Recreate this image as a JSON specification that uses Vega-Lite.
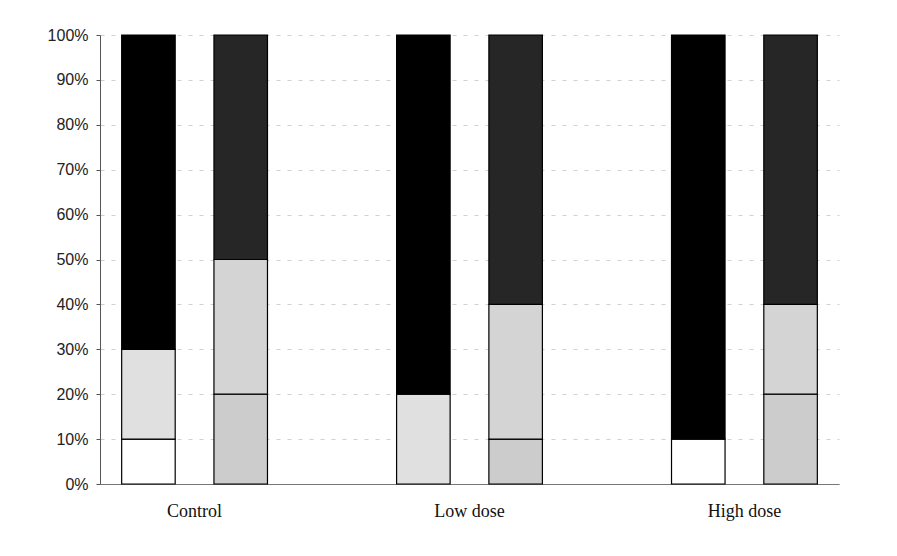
{
  "$schema": "https://vega.github.io/schema/vega-lite/v6.json",
  "width": 739,
  "height": 449,
  "autosize": {"type": "none"},
  "padding": {"left": 100, "top": 35, "right": 58, "bottom": 72},
  "background": "white",
  "config": {"view": {"stroke": null}},
  "data": {
    "values": [
      {"group": "Control", "bar": "A", "seg": "A1", "ord": 1, "value": 10},
      {"group": "Control", "bar": "A", "seg": "A2", "ord": 2, "value": 20},
      {"group": "Control", "bar": "A", "seg": "A3", "ord": 3, "value": 70},
      {"group": "Control", "bar": "B", "seg": "B1", "ord": 1, "value": 20},
      {"group": "Control", "bar": "B", "seg": "B2", "ord": 2, "value": 30},
      {"group": "Control", "bar": "B", "seg": "B3", "ord": 3, "value": 50},
      {"group": "Low dose", "bar": "A", "seg": "A2", "ord": 2, "value": 20},
      {"group": "Low dose", "bar": "A", "seg": "A3", "ord": 3, "value": 80},
      {"group": "Low dose", "bar": "B", "seg": "B1", "ord": 1, "value": 10},
      {"group": "Low dose", "bar": "B", "seg": "B2", "ord": 2, "value": 30},
      {"group": "Low dose", "bar": "B", "seg": "B3", "ord": 3, "value": 60},
      {"group": "High dose", "bar": "A", "seg": "A1", "ord": 1, "value": 10},
      {"group": "High dose", "bar": "A", "seg": "A3", "ord": 3, "value": 90},
      {"group": "High dose", "bar": "B", "seg": "B1", "ord": 1, "value": 20},
      {"group": "High dose", "bar": "B", "seg": "B2", "ord": 2, "value": 20},
      {"group": "High dose", "bar": "B", "seg": "B3", "ord": 3, "value": 60}
    ]
  },
  "mark": {"type": "bar", "stroke": "black", "strokeWidth": 1.2},
  "encoding": {
    "x": {
      "field": "group",
      "type": "nominal",
      "sort": ["Control", "Low dose", "High dose"],
      "scale": {"paddingInner": 0.332, "paddingOuter": 0.01},
      "axis": {
        "title": null,
        "labelAngle": 0,
        "labelFont": "Liberation Serif",
        "labelFontSize": 18,
        "labelColor": "#111",
        "labelPadding": 18,
        "ticks": false,
        "domainColor": "#777",
        "domainWidth": 1
      }
    },
    "xOffset": {
      "field": "bar",
      "type": "nominal",
      "scale": {"paddingInner": 0.42, "paddingOuter": 0.205}
    },
    "y": {
      "field": "value",
      "type": "quantitative",
      "stack": "zero",
      "scale": {"domain": [0, 100], "nice": false},
      "axis": {
        "title": null,
        "values": [0, 10, 20, 30, 40, 50, 60, 70, 80, 90, 100],
        "labelExpr": "datum.value + '%'",
        "labelFont": "Liberation Sans",
        "labelFontSize": 16,
        "labelColor": "#222",
        "labelPadding": 8,
        "tickSize": 4,
        "tickColor": "#555",
        "domainColor": "#555",
        "grid": true,
        "gridColor": "#c4c4c4",
        "gridDash": [4, 7],
        "gridWidth": 0.8
      }
    },
    "order": {"field": "ord", "type": "quantitative"},
    "color": {
      "field": "seg",
      "type": "nominal",
      "scale": {
        "domain": ["A1", "A2", "A3", "B1", "B2", "B3"],
        "range": ["#ffffff", "#e0e0e0", "#000000", "#cccccc", "#d4d4d4", "#262626"]
      },
      "legend": null
    }
  }
}
